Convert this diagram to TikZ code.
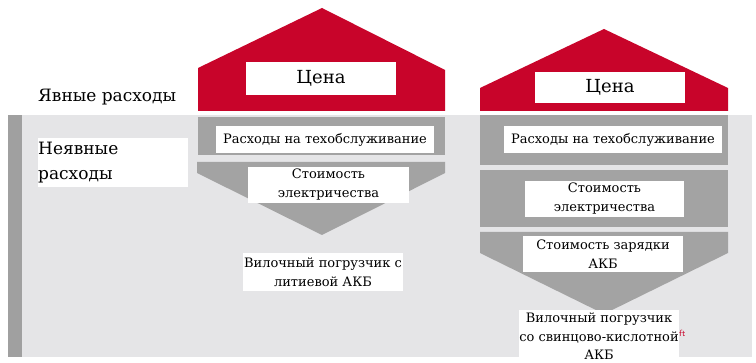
\documentclass[tikz,border=0pt]{standalone}
\usepackage{fontspec}
\setmainfont{DejaVu Serif}
\definecolor{hred}{RGB}{200,4,42}
\definecolor{bandgray}{RGB}{163,163,163}
\definecolor{bggray}{RGB}{229,229,231}
\definecolor{bargray}{RGB}{160,160,160}
\begin{document}
\begin{tikzpicture}[x=1pt,y=-1pt,
  wbox/.style={fill=white, inner sep=0pt, align=center, font=\fontsize{13}{19}\selectfont},
  pricebox/.style={wbox, font=\fontsize{18}{23}\selectfont, minimum width=150pt},
  bigtxt/.style={inner sep=0pt, font=\fontsize{17}{25}\selectfont}]
\useasboundingbox (0,0) rectangle (756,363);
\fill[white] (0,0) rectangle (756,363);
% background
\fill[bggray] (8,115) rectangle (752,357);
\fill[bargray] (8,115) rectangle (22,357);
% left house
\fill[hred] (198,111) -- (198,68) -- (322,8) -- (445,70) -- (445,111) -- cycle;
\fill[bandgray] (198,117) rectangle (445,155);
\fill[bandgray] (197,162) -- (445,162) -- (445,173) -- (322,235) -- (197,173) -- cycle;
% right house
\fill[hred] (480,111) -- (480,88) -- (604,29) -- (728,88) -- (728,111) -- cycle;
\fill[bandgray] (480,115) rectangle (728,165);
\fill[bandgray] (480,170) rectangle (728,227);
\fill[bandgray] (480,232) -- (728,232) -- (728,253) -- (604,314) -- (480,253) -- cycle;
% labels
\node[bigtxt, anchor=west] (explicit) at (38,97) {Явные расходы};
\node[bigtxt, fill=white, anchor=north west, minimum width=150pt, minimum height=49pt, text width=150pt, align=left] (implicit) at (38,138) {Неявные\\расходы};
% left boxes
\node[pricebox, minimum height=33pt] (priceL) at (321,78.5) {Цена};
\node[wbox, minimum width=218pt, minimum height=27pt] (maintL) at (325,139.5) {Расходы на техобслуживание};
\node[wbox, minimum width=161pt, minimum height=36pt] (elecL) at (328.5,185) {Стоимость\\электричества};
\node[wbox, minimum width=160pt, minimum height=38pt] (liftL) at (323,272) {Вилочный погрузчик с\\литиевой АКБ};
% right boxes
\node[pricebox, minimum height=31pt] (priceR) at (610,87.5) {Цена};
\node[wbox, minimum width=218pt, minimum height=27pt] (maintR) at (613,139.5) {Расходы на техобслуживание};
\node[wbox, minimum width=159pt, minimum height=36pt] (elecR) at (604.5,199) {Стоимость\\электричества};
\node[wbox, minimum width=160pt, minimum height=36pt] (chargeR) at (603,254) {Стоимость зарядки\\АКБ};
\fill[white] (519,310) rectangle (679,363);
\node[inner sep=0pt, align=center, font=\fontsize{13}{18.5}\selectfont, anchor=north] (liftR) at (599,313) {Вилочный погрузчик\\со свинцово-кислотной\\АКБ};
\node[inner sep=0pt, text=hred, font=\sffamily\fontsize{9}{10}\selectfont, anchor=west] (mark) at (679,333) {ft};
\end{tikzpicture}
\end{document}
